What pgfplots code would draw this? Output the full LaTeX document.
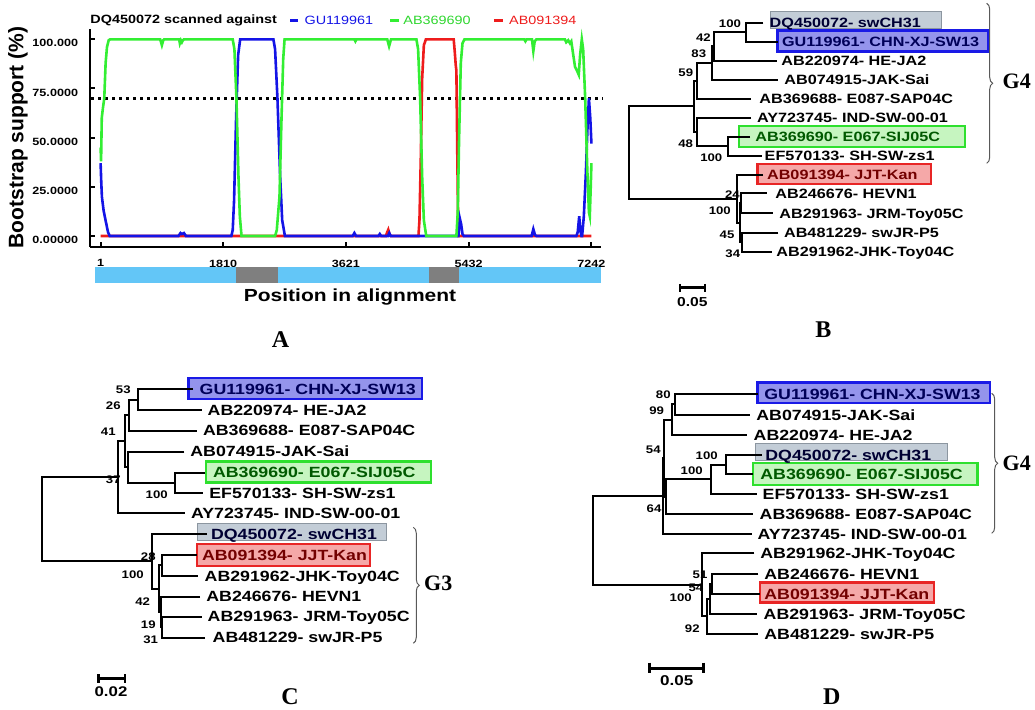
\documentclass[border=0pt]{standalone}
\usepackage{fontspec}
\setmainfont{Liberation Sans}
\newfontfamily\lab[FakeStretch=1.2]{Liberation Sans}
\newfontfamily\tms{Liberation Serif}
\usepackage{pgfplots}
\pgfplotsset{compat=1.18}
\usetikzlibrary{decorations.pathreplacing}
\newcommand{\fs}[1]{\fontsize{#1}{#1}\selectfont}

\definecolor{sblue}{HTML}{1414E6}
\definecolor{sgreen}{HTML}{33EE33}
\definecolor{sred}{HTML}{EE1C1C}
\definecolor{barblue}{HTML}{63C6F7}
\definecolor{bargray}{HTML}{7F7F7F}
\definecolor{gfill}{HTML}{C3CDD7}
\definecolor{gdraw}{HTML}{8C96A0}
\definecolor{bfill}{HTML}{9494EC}
\definecolor{bdraw}{HTML}{1A1AE6}
\definecolor{gnfill}{HTML}{C6F5C0}
\definecolor{gndraw}{HTML}{2EE02E}
\definecolor{rfill}{HTML}{F5A8A8}
\definecolor{rdraw}{HTML}{E82525}

\tikzset{
  tb/.style={anchor=base west, inner sep=0pt, font=\lab\bfseries\fs{6.75pt}, yshift=-2.4pt},
  tc/.style={anchor=base west, inner sep=0pt, font=\lab\bfseries\fs{7.4pt}, yshift=-2.65pt},
  nl/.style={inner sep=0pt, font=\lab\bfseries\fs{5.5pt}},
  brc/.style={decorate, decoration={brace, amplitude=3pt}, draw=black!65, line width=0.5pt},
  gl/.style={font=\tms\bfseries\fs{11pt}, inner sep=0pt},
  pl/.style={font=\tms\bfseries\fs{12pt}, inner sep=0pt},
}

\begin{document}
\begin{tikzpicture}
% ---- canvas in pixel units (1035 x 710), holds the trees and panel texts
\begin{axis}[name=canvas, at={(0,0)}, anchor=south west,
  width=517.5pt, height=355pt, scale only axis,
  xmin=0, xmax=1035, ymin=0, ymax=710, y dir=reverse,
  hide axis, clip=false, unbounded coords=jump]
\coordinate (Asw) at (axis cs:89.9,246.7);

% highlight boxes
\addplot[fill=gfill, draw=gdraw, line width=0.5pt] coordinates {(770,11.5)(941.7,11.5)(941.7,28.8)(770,28.8)} -- cycle;
\addplot[fill=bfill, draw=bdraw, line width=1.2pt] coordinates {(777.5,30.5)(988.5,30.5)(988.5,51.7)(777.5,51.7)} -- cycle;
\addplot[fill=gnfill, draw=gndraw, line width=1.2pt] coordinates {(739,126)(965,126)(965,147.3)(739,147.3)} -- cycle;
\addplot[fill=rfill, draw=rdraw, line width=1.2pt] coordinates {(757.3,164)(930.7,164)(930.7,184)(757.3,184)} -- cycle;

\addplot[fill=bfill, draw=bdraw, line width=1.2pt] coordinates {(188.3,378.3)(421.7,378.3)(421.7,399.3)(188.3,399.3)} -- cycle;
\addplot[fill=gnfill, draw=gndraw, line width=1.2pt] coordinates {(206,461.7)(431,461.7)(431,482.7)(206,482.7)} -- cycle;
\addplot[fill=gfill, draw=gdraw, line width=0.5pt] coordinates {(197.3,523.3)(386.7,523.3)(386.7,540.7)(197.3,540.7)} -- cycle;
\addplot[fill=rfill, draw=rdraw, line width=1.2pt] coordinates {(196.7,544.3)(370,544.3)(370,566)(196.7,566)} -- cycle;

\addplot[fill=bfill, draw=bdraw, line width=1.2pt] coordinates {(757.3,382.7)(990,382.7)(990,403.3)(757.3,403.3)} -- cycle;
\addplot[fill=gfill, draw=gdraw, line width=0.5pt] coordinates {(755,444)(947.3,444)(947.3,460.7)(755,460.7)} -- cycle;
\addplot[fill=gnfill, draw=gndraw, line width=1.2pt] coordinates {(752.7,463.3)(977.3,463.3)(977.3,485)(752.7,485)} -- cycle;
\addplot[fill=rfill, draw=rdraw, line width=1.2pt] coordinates {(760,582.7)(934,582.7)(934,602.7)(760,602.7)} -- cycle;

% tree B
\addplot[black, line width=1pt] coordinates {
(763.3,22.7)(745.7,22.7)(745.7,41.7)(778,41.7)(nan,nan)
(745.7,32.2)(714.3,32.2)(714.3,60.7)(776.7,60.7)(nan,nan)
(714.3,46.5)(712.3,46.5)(712.3,80)(778,80)(nan,nan)
(712.3,63.2)(697.3,63.2)(697.3,99)(751,99)(nan,nan)
(750,136.7)(727.7,136.7)(727.7,156)(761.7,156)(nan,nan)
(751,117.7)(696.7,117.7)(696.7,146.3)(727.7,146.3)(nan,nan)
(697.3,81.1)(694,81.1)(694,132)(696.7,132)(nan,nan)
(766.7,193.3)(741,193.3)(741,213.3)(773.3,213.3)(nan,nan)
(778.3,232.7)(742,232.7)(742,251.7)(771.7,251.7)(nan,nan)
(741,203.3)(740,203.3)(740,242.2)(742,242.2)(nan,nan)
(763,175)(736.7,175)(736.7,222.7)(740,222.7)(nan,nan)
(694,106.5)(629.3,106.5)(629.3,198.8)(736.7,198.8)
};
% tree C
\addplot[black, line width=1pt] coordinates {
(193,389.3)(137.7,389.3)(137.7,410)(201.7,410)(nan,nan)
(137.7,399.7)(129,399.7)(129,430.7)(196.7,430.7)(nan,nan)
(205,472.7)(175,472.7)(175,493.3)(202.7,493.3)(nan,nan)
(184.3,451.7)(128.3,451.7)(128.3,483)(175,483)(nan,nan)
(129,415.2)(125,415.2)(125,467.3)(128.3,467.3)(nan,nan)
(125,441.3)(117.7,441.3)(117.7,513.3)(185,513.3)(nan,nan)
(196.7,555)(161.7,555)(161.7,576)(198.3,576)(nan,nan)
(205,637.7)(162,637.7)(162,616.7)(201.7,616.7)(nan,nan)
(200,596.7)(161.3,596.7)(161.3,627.2)(162,627.2)(nan,nan)
(161.7,565.5)(159.3,565.5)(159.3,612)(161.3,612)(nan,nan)
(207,534.3)(151.7,534.3)(151.7,588.8)(159.3,588.8)(nan,nan)
(117.7,477.3)(41.7,477.3)(41.7,561.5)(151.7,561.5)
};
% tree D
\addplot[black, line width=1pt] coordinates {
(758.3,394)(675,394)(675,415)(750,415)(nan,nan)
(675,404.5)(672.3,404.5)(672.3,435)(746.7,435)(nan,nan)
(761.7,455)(725.7,455)(725.7,474.3)(752.7,474.3)(nan,nan)
(725.7,464.7)(710.7,464.7)(710.7,494)(756.7,494)(nan,nan)
(710.7,479.3)(666,479.3)(666,514)(753.3,514)(nan,nan)
(672.3,419.8)(664.3,419.8)(664.3,496.7)(666,496.7)(nan,nan)
(664.3,458.2)(662.7,458.2)(662.7,534)(751.7,534)(nan,nan)
(758.3,574)(711.7,574)(711.7,594)(760,594)(nan,nan)
(711.7,584)(710,584)(710,614)(757.3,614)(nan,nan)
(710,599)(706.7,599)(706.7,634)(758.3,634)(nan,nan)
(754.3,553.3)(701.7,553.3)(701.7,616.5)(706.7,616.5)(nan,nan)
(662.7,496.1)(592.7,496.1)(592.7,584.9)(701.7,584.9)
};
% scale bars
\addplot[black, line width=1.3pt] coordinates {
(680,284)(680,291.7)(nan,nan)(680,287.8)(705,287.8)(nan,nan)(705,284)(705,291.7)(nan,nan)
(98.3,674.3)(98.3,682.7)(nan,nan)(98.3,678.5)(125,678.5)(nan,nan)(125,674.3)(125,682.7)(nan,nan)
(649.3,662.7)(649.3,673.3)(nan,nan)(649.3,668.3)(703.3,668.3)(nan,nan)(703.3,662.7)(703.3,673.3)
};
% legend dashes of panel A
\addplot[sblue, line width=1.3pt] coordinates {(290.3,20.7)(298.2,20.7)};
\addplot[sgreen, line width=1.3pt] coordinates {(390.3,20.7)(399,20.7)};
\addplot[sred, line width=1.3pt] coordinates {(493.8,20.7)(502.5,20.7)};

% tree B labels
\node[tb, text=black!80!blue] at (769.3,22.7) {DQ450072- swCH31};
\node[tb, text=blue!35!black] at (781.7,41.7) {GU119961- CHN-XJ-SW13};
\node[tb] at (781,60.7) {AB220974- HE-JA2};
\node[tb] at (784,80) {AB074915-JAK-Sai};
\node[tb] at (759,99) {AB369688- E087-SAP04C};
\node[tb] at (756.7,117.7) {AY723745- IND-SW-00-01};
\node[tb, text=green!35!black] at (755,136.7) {AB369690- E067-SIJ05C};
\node[tb] at (764.3,156) {EF570133- SH-SW-zs1};
\node[tb, text=red!45!black] at (766.7,175) {AB091394- JJT-Kan};
\node[tb] at (775,193.3) {AB246676- HEVN1};
\node[tb] at (779,213.3) {AB291963- JRM-Toy05C};
\node[tb] at (783.7,232.7) {AB481229- swJR-P5};
\node[tb] at (776,251.7) {AB291962-JHK-Toy04C};
\node[nl] at (730,23.3) {100};
\node[nl] at (703.5,37.7) {42};
\node[nl] at (698.8,54) {83};
\node[nl] at (685.8,72.3) {59};
\node[nl] at (685.7,144) {48};
\node[nl] at (711.3,158) {100};
\node[nl] at (732.5,195) {24};
\node[nl] at (719.8,210.7) {100};
\node[nl] at (727,234.3) {45};
\node[nl] at (732.8,253.3) {34};
\node[nl, font=\lab\bfseries\fs{6.5pt}] at (692.3,301.7) {0.05};
\draw[brc] (axis cs:986.7,3.3) -- (axis cs:986.7,163.3);
\node[gl] at (1016.7,81.7) {G4};

% tree C labels
\node[tc, text=blue!35!black] at (199.3,389.3) {GU119961- CHN-XJ-SW13};
\node[tc] at (207.3,410) {AB220974- HE-JA2};
\node[tc] at (202.7,430.7) {AB369688- E087-SAP04C};
\node[tc] at (190,451.7) {AB074915-JAK-Sai};
\node[tc, text=green!35!black] at (212.7,472.7) {AB369690- E067-SIJ05C};
\node[tc] at (209,493.3) {EF570133- SH-SW-zs1};
\node[tc] at (190.7,513.3) {AY723745- IND-SW-00-01};
\node[tc, text=black!80!blue] at (210.7,534.3) {DQ450072- swCH31};
\node[tc, text=red!45!black] at (201.7,555) {AB091394- JJT-Kan};
\node[tc] at (204.3,576) {AB291962-JHK-Toy04C};
\node[tc] at (206,596.7) {AB246676- HEVN1};
\node[tc] at (207.3,616.7) {AB291963- JRM-Toy05C};
\node[tc] at (212.3,637.7) {AB481229- swJR-P5};
\node[nl] at (123.3,390) {53};
\node[nl] at (113.3,406) {26};
\node[nl] at (108.3,431.7) {41};
\node[nl] at (113.3,479.3) {37};
\node[nl] at (156.7,495) {100};
\node[nl] at (148.3,556.7) {28};
\node[nl] at (132.7,575) {100};
\node[nl] at (142.7,601.7) {42};
\node[nl] at (148.3,625) {19};
\node[nl] at (150.7,640) {31};
\node[nl, font=\lab\bfseries\fs{7pt}] at (111,691.7) {0.02};
\draw[brc] (axis cs:413.3,527.3) -- (axis cs:413.3,643.3);
\node[gl] at (438.3,583.3) {G3};

% tree D labels
\node[tc, text=blue!35!black] at (764,394) {GU119961- CHN-XJ-SW13};
\node[tc] at (756,415) {AB074915-JAK-Sai};
\node[tc] at (753.3,435) {AB220974- HE-JA2};
\node[tc, text=black!80!blue] at (765,455) {DQ450072- swCH31};
\node[tc, text=green!35!black] at (760,474.3) {AB369690- E067-SIJ05C};
\node[tc] at (762.3,494) {EF570133- SH-SW-zs1};
\node[tc] at (759.3,514) {AB369688- E087-SAP04C};
\node[tc] at (757.3,534) {AY723745- IND-SW-00-01};
\node[tc] at (760,553.3) {AB291962-JHK-Toy04C};
\node[tc] at (764,574) {AB246676- HEVN1};
\node[tc, text=red!45!black] at (764,594) {AB091394- JJT-Kan};
\node[tc] at (763.3,614) {AB291963- JRM-Toy05C};
\node[tc] at (764,634) {AB481229- swJR-P5};
\node[nl] at (663.3,395) {80};
\node[nl] at (656.7,410.7) {99};
\node[nl] at (653.3,449.3) {54};
\node[nl] at (706.7,456) {100};
\node[nl] at (691.7,470.7) {100};
\node[nl] at (654,508.3) {64};
\node[nl] at (700,575) {51};
\node[nl] at (696,588) {54};
\node[nl] at (680.7,597.7) {100};
\node[nl] at (692.3,628.3) {92};
\node[nl, font=\lab\bfseries\fs{7.1pt}] at (676.7,680.7) {0.05};
\draw[brc] (axis cs:991.7,393.3) -- (axis cs:991.7,533.3);
\node[gl] at (1016.7,463.3) {G4};

% panel A texts
\node[anchor=west, inner sep=0pt, font=\lab\bfseries\fs{6pt}] at (90,20.7) {DQ450072 scanned against};
\node[anchor=west, inner sep=0pt, font=\lab\fs{6pt}, text=sblue] at (304.2,20.7) {GU119961};
\node[anchor=west, inner sep=0pt, font=\lab\fs{6pt}, text=sgreen!90!black] at (403,20.7) {AB369690};
\node[anchor=west, inner sep=0pt, font=\lab\fs{6pt}, text=sred] at (508.8,20.7) {AB091394};
\node[rotate=90, inner sep=0pt, font=\bfseries\fs{10.5pt}] at (18,137.5) {Bootstrap support (\%)};
\node[inner sep=0pt, font=\lab\bfseries\fs{8.75pt}] at (350,296.7) {Position in alignment};

% panel letters
\node[pl] at (280.5,340) {A};
\node[pl] at (823.3,330) {B};
\node[pl] at (290,696.5) {C};
\node[pl] at (831.7,696.5) {D};
\end{axis}

% ---- panel A: bootscan
\begin{axis}[at={(Asw)}, anchor=south west,
  width=255.3pt, height=108.6pt, scale only axis,
  xmin=-157, xmax=7376, ymin=-5.44, ymax=105,
  axis lines=left, axis line style={-, line width=1.15pt},
  tick align=inside, major tick length=2.5pt, tick style={black, line width=1pt},
  xtick={1,1810,3621,5432,7242}, xticklabels={1,1810,3621,5432,7242},
  ytick={0,25,50,75,100}, yticklabels={0.00000,25.0000,50.0000,75.0000,100.000},
  ticklabel style={font=\lab\bfseries\fs{5.25pt}},
  xticklabel style={yshift=-3pt}, yticklabel style={xshift=-2.4pt, yshift=-2pt},
  clip=false]
\addplot[fill=barblue, draw=none] coordinates {(-83,-15.6)(7384,-15.6)(7384,-24)(-83,-24)} -- cycle;
\addplot[fill=bargray, draw=none] coordinates {(1998,-15.6)(2613,-15.6)(2613,-24)(1998,-24)} -- cycle;
\addplot[fill=bargray, draw=none] coordinates {(4845,-15.6)(5295,-15.6)(5295,-24)(4845,-24)} -- cycle;
\addplot[black, line width=1.3pt, dash pattern=on 1.5pt off 2pt] coordinates {(-140,70)(7400,70)};
% AB091394
\addplot[sred, line width=1.3pt] coordinates {
(1,0)(4210,0)(4230,2)(4245,3.2)(4262,1)(4280,0)(4690,0)(4705,8)(4725,40)(4745,80)
(4770,97)(4800,100)(5210,100)(5225,94)(5240,87)(5250,84)(5262,45)(5278,0)(7242,0)};
% GU119961
\addplot[sblue, line width=1.3pt] coordinates {
(1,37)(10,28)(20,20)(45,13)(80,7)(110,2)(135,0)(1150,0)(1180,1.5)(1200,1)(1230,1.5)(1260,0)
(1930,0)(1950,3)(1970,18)(2000,60)(2030,92)(2060,100)(2550,100)(2575,95)(2610,70)(2650,30)
(2680,8)(2720,0)(3720,0)(3745,1.5)(3770,0)(4100,0)(4120,1)(4140,0)(4240,0)(4260,1.5)(4280,0)
(5280,0)(5300,9)(5320,6)(5340,1)(5360,0)(6360,0)(6385,3.5)(6410,0.5)(6430,0)(7020,0)(7040,2)
(7062,10)(7078,3)(7095,0)(7105,0)(7130,10)(7160,32)(7185,56)(7205,70)(7225,60)(7242,47)};
% AB369690
\addplot[sgreen, line width=1.3pt] coordinates {
(1,45)(8,38)(18,60)(35,65)(55,70)(75,88)(95,96)(120,99.5)(140,100)(880,100)(905,97)(925,99.5)
(940,100)(1160,100)(1170,98)(1185,99.5)(1200,98.5)(1215,99.5)(1230,100)(1950,100)(1975,95)
(2005,70)(2035,30)(2055,10)(2080,0)(2575,0)(2600,3)(2640,20)(2670,60)(2695,90)(2715,100)
(3745,100)(3760,99)(3775,100)(4230,100)(4257,96.5)(4285,100)(4660,100)(4685,95)(4715,70)
(4745,30)(4770,8)(4805,0)(5250,0)(5270,12)(5290,50)(5315,88)(5340,98)(5370,100)(6250,100)
(6268,99)(6285,100)(6365,100)(6385,94)(6405,99)(6430,100)(6850,100)(6870,98.5)(6900,99.5)
(6925,98)(6945,99)(6970,93)(7000,86)(7030,84)(7055,82)(7075,92)(7100,100)(7120,95)(7150,70)
(7180,35)(7205,12)(7218,10)(7232,25)(7242,37)};
\end{axis}

\pgfresetboundingbox
\path[use as bounding box] (canvas.south west) rectangle (canvas.north east);
\end{tikzpicture}
\end{document}
